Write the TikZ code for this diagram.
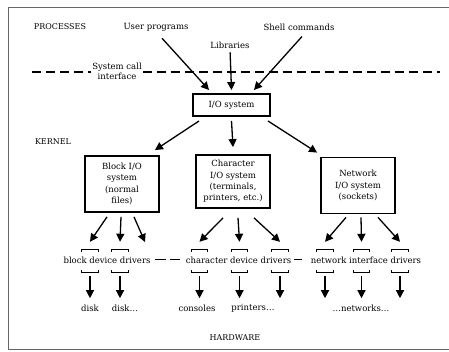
\documentclass[tikz,border=0pt]{standalone}
\usepackage{fontspec}
\setmainfont{DejaVu Serif}
\usetikzlibrary{positioning, arrows.meta, calc}

\begin{document}
\begin{tikzpicture}[x=1pt, y=-1pt,
    lbl/.style={inner sep=1pt, font=\fontsize{8.5}{10}\selectfont},
    caps/.style={inner sep=1pt, font=\fontsize{8}{9}\selectfont},
    sysbox/.style={rectangle, draw=black, line width=1.8pt, align=center,
                   minimum width=74pt, minimum height=56pt, inner sep=1pt,
                   font=\fontsize{8.5}{11.3}\selectfont},
    iobox/.style={rectangle, draw=black, line width=2pt, minimum width=77pt,
                  minimum height=22pt, font=\fontsize{8.5}{10}\selectfont},
    slot/.style={minimum width=16pt, minimum height=22pt, inner sep=0pt},
    bracket/.style={line width=0.8pt},
    arrow/.style={-{Triangle[length=8pt, width=8pt]}, line width=1.3pt},
    cut/.style={line width=1.2pt, dash pattern=on 9pt off 5pt},
    frame/.style={line width=1pt, black!60}
  ]
  \useasboundingbox (0,0) rectangle (449,352);
  \draw[frame] (449,8) -- (8,8) -- (8,349) -- (449,349);

  % user side
  \node[caps] (proc) at (60,27) {PROCESSES};
  \node[lbl] (user) at (156,27) {User programs};
  \node[lbl] (lib) at (230,45) {Libraries};
  \node[lbl] (shell) at (299,27) {Shell commands};
  \node[lbl, align=center] (syscall) at (117,71) {System call\\interface};
  \coordinate (dl) at (32,72);
  \coordinate (dr) at (440,72);
  \draw[cut] (dl) -- (dl -| syscall.west);
  \draw[cut] (syscall.east |- dr) -- (dr);

  \node[iobox] (io) at (231.5,105) {I/O system};
  \draw[arrow] ($(user.south)+(6,6)$) -- ($(io.north west)+(17,-3)$);
  \draw[arrow, shorten <=3pt] (lib.south) -- ($(io.north)+(0,-3)$);
  \draw[arrow] ($(shell.south)+(3,5)$) -- ($(io.north east)+(-17,-3)$);

  % kernel
  \node[caps] (kernel) at (53,142) {KERNEL};
  \node[sysbox] (blockio) at (122,184) {Block I/O\\system\\(normal\\files)};
  \node[sysbox, minimum height=53pt] (chario) at (233,181.5) {Character\\I/O system\\(terminals,\\printers, etc.)};
  \node[sysbox] (netio) at (358,185.5) {Network\\I/O system\\(sockets)};

  \draw[arrow] ($(io.south west)+(7,4)$) -- ($(blockio.north east)+(-5,-5)$);
  \draw[arrow] ($(io.south)+(0,4)$) -- ($(chario.north)+(0,-7)$);
  \draw[arrow] ($(io.south east)+(-3,4)$) -- ($(netio.north west)+(-3,-4)$);

  % drivers
  \node[lbl] (blockdrv) at (107,260) {block device drivers};
  \node[lbl] (chardrv) at (238.5,260) {character device drivers};
  \node[lbl] (netdrv) at (366,260) {network interface drivers};
  \draw[line width=1pt, dash pattern=on 11pt off 4pt, shorten <=3pt, shorten >=5pt] (blockdrv) -- (chardrv);
  \draw[line width=1pt, dash pattern=on 8pt off 9pt, shorten <=2pt] (chardrv) -- (netdrv);

  \node[slot] (b1) at (90,261) {};
  \node[slot] (b2) at (120,261) {};
  \node[slot] (c1) at (199.5,261) {};
  \node[slot] (c2) at (239.5,261) {};
  \node[slot] (c3) at (280,261) {};
  \node[slot] (n1) at (325,261) {};
  \node[slot] (n2) at (361.5,261) {};
  \node[slot] (n3) at (400,261) {};
  \coordinate (bx) at (145,242);

  \foreach \s in {b1,b2,c1,c2,c3,n1,n2,n3} {
    \draw[bracket] ($(\s.north west)+(0,2)$) -- (\s.north west) -- (\s.north east) -- ++(0,2);
    \draw[bracket] ($(\s.south west)+(0,-2)$) -- (\s.south west) -- (\s.south east) -- ++(0,-2);
    \draw[arrow] ($(\s.south)+(0,4)$) -- ++(0,22);
  }

  \draw[arrow] ($(blockio.south)+(-15,4)$) -- ($(b1.north)+(0,-8)$);
  \draw[arrow] ($(blockio.south)+(-1,4)$) -- ($(b2.north)+(0,-8)$);
  \draw[arrow] ($(blockio.south)+(12,4)$) -- (bx);
  \draw[arrow] ($(chario.south)+(-10,9)$) -- ($(c1.north)+(0,-8)$);
  \draw[arrow] ($(chario.south)+(5,9)$) -- ($(c2.north)+(0,-8)$);
  \draw[arrow] ($(chario.south)+(21,9)$) -- ($(c3.north)+(0,-8)$);
  \draw[arrow] ($(netio.south)+(-12,3)$) -- ($(n1.north)+(0,-8)$);
  \draw[arrow] ($(netio.south)+(3,3)$) -- ($(n2.north)+(0,-8)$);
  \draw[arrow] ($(netio.south)+(20,3)$) -- ($(n3.north)+(0,-8)$);

  % hardware
  \node[lbl] (disk) at (90,308) {disk};
  \node[lbl] (disks) at (125,308) {disk\dots};
  \node[lbl] (cons) at (197,308) {consoles};
  \node[lbl] (prn) at (253,308) {printers\dots};
  \node[lbl] (nets) at (361,308) {\dots networks\dots};
  \node[caps] (hw) at (235,338) {HARDWARE};
\end{tikzpicture}
\end{document}
